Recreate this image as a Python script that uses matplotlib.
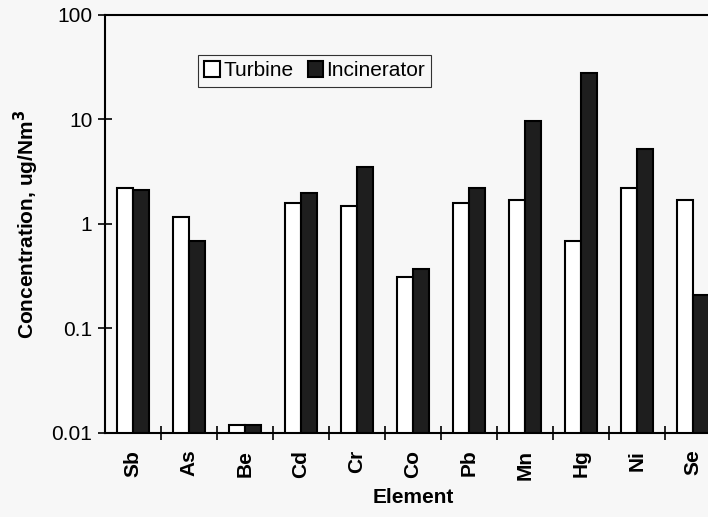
import numpy as np
import matplotlib.pyplot as plt
from matplotlib.ticker import FixedLocator, NullLocator

plt.rcParams['font.family'] = ['Liberation Sans', 'DejaVu Sans']

elements = ['Sb', 'As', 'Be', 'Cd', 'Cr', 'Co', 'Pb', 'Mn', 'Hg', 'Ni', 'Se']
turbine = [2.2, 1.17, 0.012, 1.6, 1.5, 0.31, 1.58, 1.7, 0.69, 2.2, 1.7]
incinerator = [2.1, 0.68, 0.012, 2.0, 3.5, 0.37, 2.2, 9.6, 28, 5.2, 0.21]
yticks = [0.01, 0.1, 1, 10, 100]
ylabels = ['0.01', '0.1', '1', '10', '100']

fig = plt.figure(figsize=(7.08, 5.17), dpi=100, facecolor='#f7f7f7')
ax = fig.add_axes([0.1483, 0.1625, 0.8701, 0.8085])
ax.set_facecolor('#f7f7f7')

x = np.arange(len(elements))
w = 0.29
ax.bar(x - w / 2, turbine, w, color='white', edgecolor='black', linewidth=1.5, label='Turbine')
ax.bar(x + w / 2, incinerator, w, color='#1e1e1e', edgecolor='black', linewidth=1.5, label='Incinerator')

ax.set_yscale('log')
ax.set_ylim(0.01, 100)
ax.set_xlim(-0.5, len(elements) - 0.5)
ax.set_yticks(yticks)
ax.set_yticklabels(ylabels, fontsize=15)
ax.yaxis.set_minor_locator(NullLocator())
ax.tick_params(axis='y', direction='inout', length=10, width=1.2, pad=4)

ax.set_xticks(x)
ax.set_xticklabels(elements, rotation=90, fontsize=15, fontweight='bold')
ax.xaxis.set_minor_locator(FixedLocator(np.arange(0.5, len(elements) - 0.5, 1)))
ax.tick_params(axis='x', which='major', length=0, pad=12)
ax.tick_params(axis='x', which='minor', direction='inout', length=10, width=1.2)

for s in ['left', 'bottom', 'top']:
    ax.spines[s].set_linewidth(1.5)
ax.spines['right'].set_visible(False)

ax.set_ylabel('Concentration, ug/Nm$^\\mathbf{3}$', fontsize=15, fontweight='bold', labelpad=8)
ax.set_xlabel('Element', fontsize=15, fontweight='bold', labelpad=6)

leg = ax.legend(loc='upper left', bbox_to_anchor=(0.151, 0.904), ncol=2, fontsize=15,
                frameon=True, fancybox=False, edgecolor='black', handlelength=0.75,
                handleheight=0.75, handletextpad=0.15, columnspacing=0.7, borderpad=0.3,
                borderaxespad=0)
leg.get_frame().set_linewidth(0.8)
leg.get_frame().set_facecolor('#f7f7f7')

fig.savefig('out.png', dpi=100, facecolor=fig.get_facecolor())
